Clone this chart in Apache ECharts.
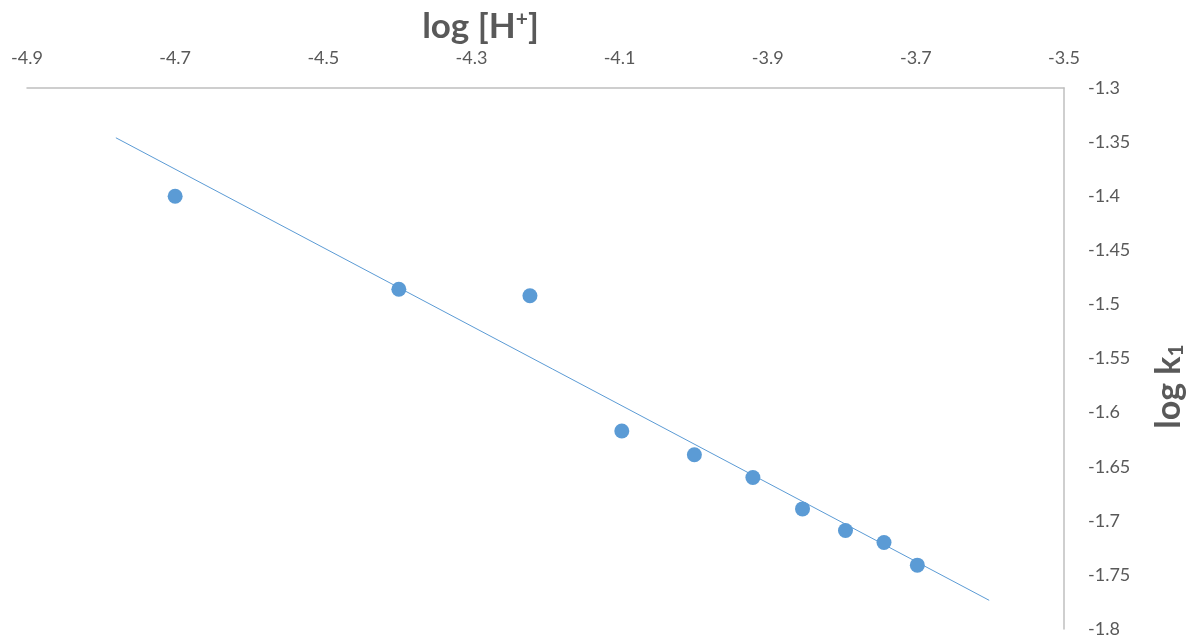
<!DOCTYPE html>
<html>
<head>
<meta charset="utf-8">
<script src="https://cdn.jsdelivr.net/npm/echarts@6/dist/echarts.min.js"></script>
<style>
  html, body { margin: 0; padding: 0; background: #ffffff; }
  #chart { width: 1189px; height: 639px; }
</style>
</head>
<body>
<div id="chart"></div>
<script>
// Measured points: log [H+] against log k1
const logH = [-4.70, -4.398, -4.221, -4.097, -3.999, -3.920, -3.853, -3.795, -3.743, -3.698];
const logK1 = [-1.400, -1.486, -1.492, -1.617, -1.639, -1.660, -1.689, -1.709, -1.720, -1.741];

// Linear trendline end points
const trendX = [-4.780, -3.601];
const trendY = [-1.346, -1.7735];

const xAxisRange = { min: -4.9, max: -3.5, step: 0.2 };
const yAxisRange = { min: -1.8, max: -1.3, step: 0.05 };

const blue = '#5b9bd5';
const grey = '#bfbfbf';
const textGrey = '#595959';
const fontFamily = 'Lato, "Open Sans", sans-serif';

const chart = echarts.init(document.getElementById('chart'), null, { renderer: 'canvas' });

chart.setOption({
  animation: false,
  backgroundColor: '#ffffff',
  grid: { left: 27, right: 125, top: 88, bottom: 10, containLabel: false, outerBoundsMode: 'none' },
  xAxis: {
    type: 'value',
    position: 'top',
    min: xAxisRange.min,
    max: xAxisRange.max,
    interval: xAxisRange.step,
    name: '{a|log [H}{s|+}{a|]}',
    nameLocation: 'middle',
    nameGap: 37,
    nameTextStyle: {
      padding: [0, 130, 0, 0],
      rich: {
        a: { fontFamily, fontSize: 35, fontWeight: 'bold', color: textGrey },
        s: { fontFamily, fontSize: 21, fontWeight: 'bold', color: textGrey, verticalAlign: 'top', padding: [0, 0, 14, 0] }
      }
    },
    axisLine: { show: true, onZero: false, lineStyle: { color: grey, width: 1.5 } },
    axisTick: { show: false },
    splitLine: { show: false },
    axisLabel: {
      margin: 21,
      color: textGrey,
      fontFamily,
      fontSize: 18,
      formatter: v => (Math.round(v * 10) / 10).toFixed(1)
    }
  },
  yAxis: {
    type: 'value',
    position: 'right',
    min: yAxisRange.min,
    max: yAxisRange.max,
    interval: yAxisRange.step,
    name: '{a|log k}{s|1}',
    nameLocation: 'middle',
    nameRotate: 90,
    nameGap: 88,
    nameTextStyle: {
      padding: [0, 56, 0, 0],
      rich: {
        a: { fontFamily, fontSize: 34, fontWeight: 'bold', color: textGrey },
        s: { fontFamily, fontSize: 21, fontWeight: 'bold', color: textGrey, verticalAlign: 'bottom', padding: [14, 0, 0, 0] }
      }
    },
    axisLine: { show: true, onZero: false, lineStyle: { color: grey, width: 1.5 } },
    axisTick: { show: false },
    splitLine: { show: false },
    axisLabel: {
      margin: 24,
      color: textGrey,
      fontFamily,
      fontSize: 18,
      formatter: v => String(Math.round(v * 100) / 100)
    }
  },
  series: [
    {
      type: 'line',
      data: trendX.map((x, i) => [x, trendY[i]]),
      showSymbol: false,
      symbol: 'none',
      lineStyle: { color: blue, width: 1 },
      z: 2,
      silent: true
    },
    {
      type: 'scatter',
      data: logH.map((x, i) => [x, logK1[i]]),
      symbol: 'circle',
      symbolSize: 15,
      itemStyle: { color: blue, opacity: 1 },
      z: 3
    }
  ]
});
</script>
</body>
</html>
